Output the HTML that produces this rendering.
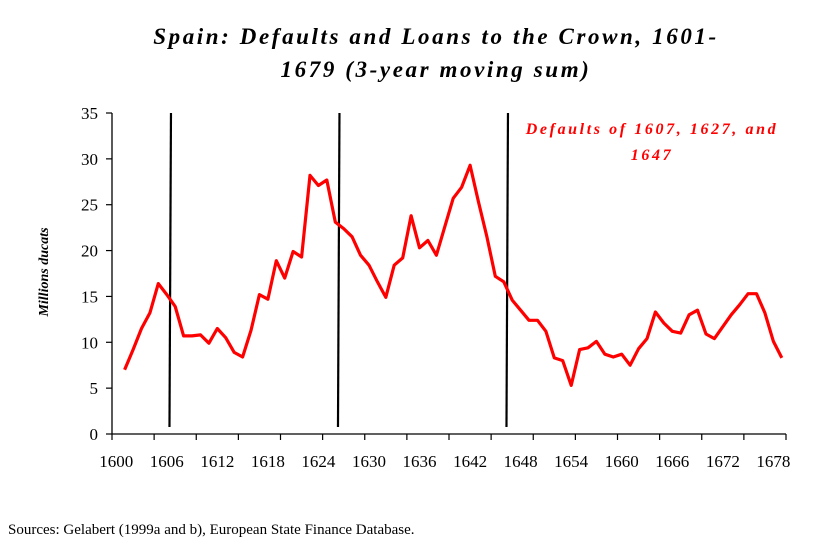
<!DOCTYPE html>
<html><head><meta charset="utf-8"><style>
body{margin:0;background:#fff;width:832px;height:540px;overflow:hidden}
svg text{font-family:"Liberation Serif",serif}
</style></head><body>
<svg id="c" width="832" height="540">
<text x="436" y="44" text-anchor="middle" font-size="23" font-style="italic" font-weight="bold" letter-spacing="2.6">Spain: Defaults and Loans to the Crown, 1601-</text>
<text x="436" y="77" text-anchor="middle" font-size="23" font-style="italic" font-weight="bold" letter-spacing="2.6">1679 (3-year moving sum)</text>
<text transform="translate(48,272) rotate(-90)" text-anchor="middle" font-size="14" font-style="italic" font-weight="bold">Millions ducats</text>
<text x="652" y="134" text-anchor="middle" font-size="16" font-style="italic" font-weight="bold" fill="#ff0000" letter-spacing="2.6">Defaults of 1607, 1627, and</text>
<text x="652" y="160" text-anchor="middle" font-size="16" font-style="italic" font-weight="bold" fill="#ff0000" letter-spacing="2.6">1647</text>
<text x="8" y="534" font-size="15">Sources: Gelabert (1999a and b), European State Finance Database.</text>
<g id="axes"></g><g id="marks"></g>
</svg>
<script>
const startYear = 1600;
const numCategories = 80;
const years = [];
for (let y = 1601; y <= 1679; y++) years.push(y);
const loans = [7.0,9.2,11.5,13.2,16.4,15.2,13.9,10.7,10.7,10.8,9.9,11.5,10.5,8.9,8.4,11.3,15.2,14.7,18.9,17.0,19.9,19.3,28.2,27.1,27.7,23.1,22.4,21.5,19.5,18.4,16.6,14.9,18.4,19.2,23.8,20.3,21.1,19.5,22.6,25.7,26.9,29.3,25.3,21.5,17.2,16.6,14.6,13.5,12.4,12.4,11.2,8.3,8.0,5.3,9.2,9.4,10.1,8.7,8.4,8.7,7.5,9.3,10.4,13.3,12.1,11.2,11.0,13.0,13.5,10.9,10.4,11.7,13.0,14.1,15.3,15.3,13.2,10.1,8.3];
const defaults = [1607,1627,1647];
const yTicks = [0,5,10,15,20,25,30,35];
const xLabels = [1600,1606,1612,1618,1624,1630,1636,1642,1648,1654,1660,1666,1672,1678];

const NS = "http://www.w3.org/2000/svg";
const x0 = 112, x1 = 786, yb = 434, yt = 113, yMax = 35;
const cw = (x1 - x0) / numCategories;
const xEdge = yr => x0 + (yr - startYear) * cw;
const xC = yr => xEdge(yr) + cw / 2;
const yS = v => yb - v / yMax * (yb - yt);
function mk(tag, attrs, parent){const e=document.createElementNS(NS,tag);for(const k in attrs)e.setAttribute(k,attrs[k]);parent.appendChild(e);return e;}
const axes = document.getElementById('axes'), marks = document.getElementById('marks');

let e = mk('line',{x1:x0,y1:yt,x2:x0,y2:yb,stroke:'#000','stroke-width':1.3},axes);


e = mk('line',{x1:x0,y1:yb,x2:x1,y2:yb,stroke:'#000','stroke-width':1.3},axes);


yTicks.forEach(v=>{
  mk('line',{x1:x0-6,y1:yS(v),x2:x0,y2:yS(v),stroke:'#000','stroke-width':1.2},axes);
  const t = mk('text',{x:x0-14,y:yS(v)+6,'text-anchor':'end','font-size':17},axes);
  t.textContent = v;
  
  
});
for (let c = 0; c <= numCategories; c += 5) {
  mk('line',{x1:x0+c*cw,y1:yb,x2:x0+c*cw,y2:yb+6,stroke:'#000','stroke-width':1.2},axes);
}
xLabels.forEach(yr=>{
  const t = mk('text',{x:xC(yr),y:yb+33,'text-anchor':'middle','font-size':17},axes);
  t.textContent = yr;
  
  
});
defaults.forEach(yr=>{
  const l = mk('line',{x1:xEdge(yr),y1:yt,x2:xEdge(yr)-1.5,y2:yb-7,stroke:'#000','stroke-width':2.2},marks);
  
  
});
const pts = years.map((yr,i)=>xC(yr).toFixed(1)+','+yS(loans[i]).toFixed(1)).join(' ');
const p = mk('polyline',{points:pts,fill:'none',stroke:'#ff0000','stroke-width':3.2,'stroke-linejoin':'round'},marks);


</script>
</body></html>
